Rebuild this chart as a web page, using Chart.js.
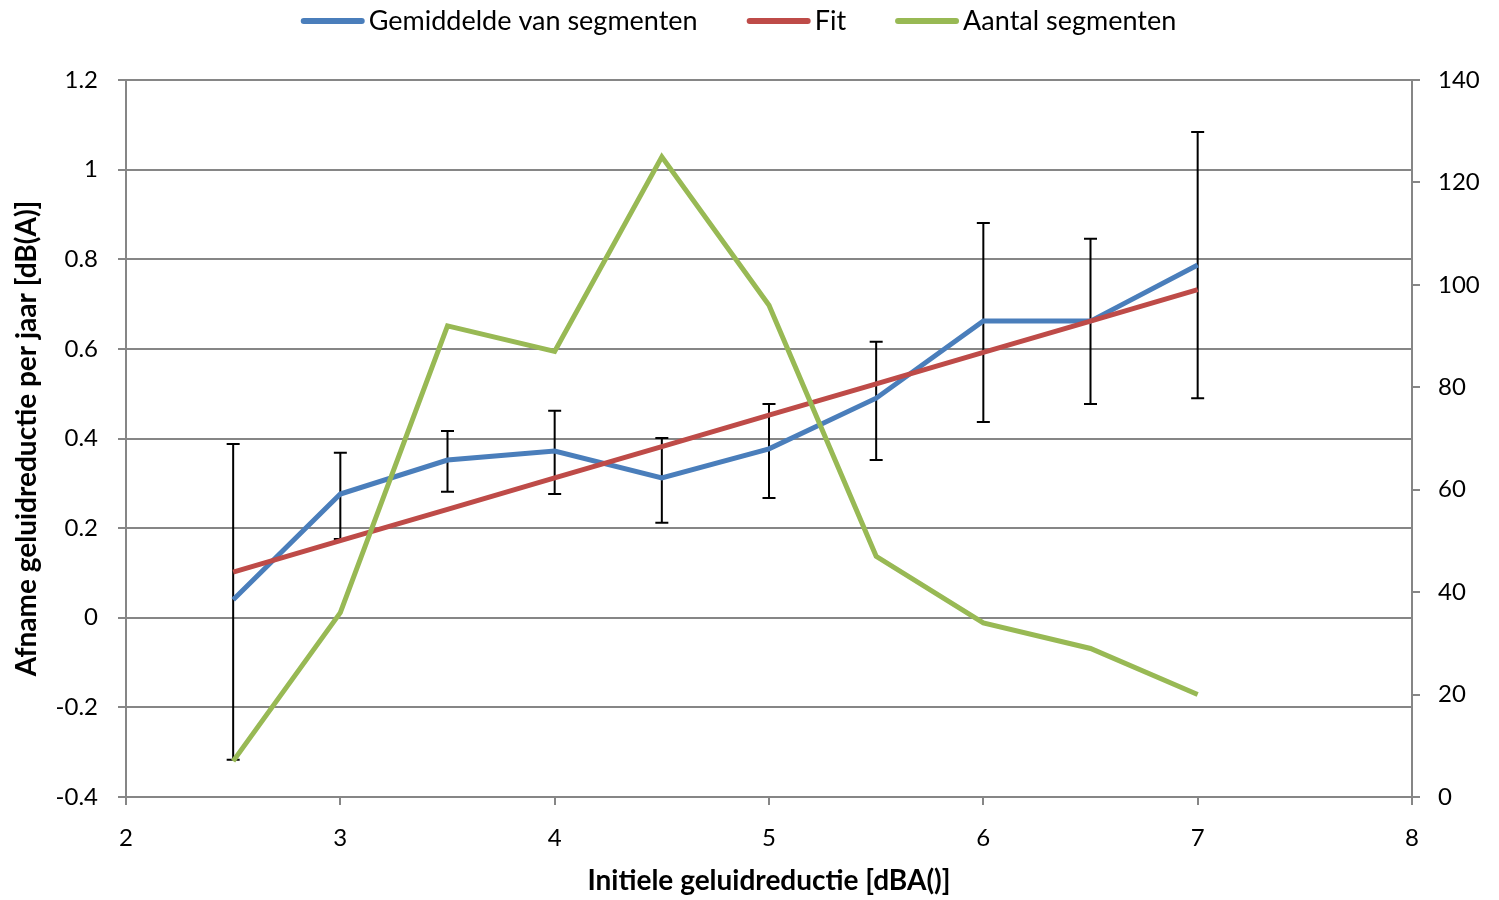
<!DOCTYPE html>
<html>
<head>
<meta charset="utf-8">
<script src="https://cdn.jsdelivr.net/npm/chart.js@4.4.0/dist/chart.umd.min.js"></script>
<style>
    html, body { margin: 0; padding: 0; background: #ffffff; }
    #wrap { width: 1499px; height: 900px; }
</style>
</head>
<body>
<div id="wrap"><canvas id="chart" width="1499" height="900"></canvas></div>
<script>
// x positions (initiele geluidreductie)
const xValues = [2.5, 3, 3.5, 4, 4.5, 5, 5.5, 6, 6.5, 7];
// Gemiddelde van segmenten, with error bar ends
const meanValues = [0.04, 0.276, 0.352, 0.372, 0.312, 0.377, 0.49, 0.662, 0.662, 0.787];
const errUpper   = [0.388, 0.368, 0.417, 0.462, 0.401, 0.477, 0.616, 0.881, 0.846, 1.084];
const errLower   = [-0.317, 0.176, 0.281, 0.276, 0.212, 0.267, 0.352, 0.437, 0.477, 0.49];
// Fit
const fitValues = [0.102, 0.172, 0.242, 0.312, 0.382, 0.452, 0.522, 0.592, 0.662, 0.732];
// Aantal segmenten (right axis)
const countValues = [7, 36, 92, 87, 125, 96, 47, 34, 29, 20];

const BLUE = '#4A7EBB';
const RED = '#BE4B48';
const GREEN = '#98B954';
const AXIS = '#868686';
const FONT = 'Lato, "Open Sans", sans-serif';

function toPoints(ys) {
    return xValues.map((x, i) => ({ x: x, y: ys[i] }));
}

// Draws the black error bars on the mean series
const errorBarPlugin = {
    id: 'errorBars',
    beforeDatasetsDraw(chart) {
        const ctx = chart.ctx;
        const xs = chart.scales.x;
        const ys = chart.scales.y;
        ctx.save();
        ctx.strokeStyle = '#000000';
        ctx.lineWidth = 2;
        xValues.forEach((x, i) => {
            const px = xs.getPixelForValue(x);
            const top = ys.getPixelForValue(errUpper[i]);
            const bot = ys.getPixelForValue(errLower[i]);
            ctx.beginPath();
            ctx.moveTo(px, top);
            ctx.lineTo(px, bot);
            ctx.moveTo(px - 6.5, top);
            ctx.lineTo(px + 6.5, top);
            ctx.moveTo(px - 6.5, bot);
            ctx.lineTo(px + 6.5, bot);
            ctx.stroke();
        });
        ctx.restore();
    }
};

// Simple legend: thick line sample right before the text, centred above the plot
const topLegendPlugin = {
    id: 'topLegend',
    afterDraw(chart) {
        const ctx = chart.ctx;
        const sampleW = 64, gapText = 4, gapItem = 49, y = 21;
        ctx.save();
        ctx.font = '27px ' + FONT;
        ctx.textBaseline = 'middle';
        const items = chart.data.datasets.map(ds => ({
            text: ds.label, color: ds.borderColor, w: ctx.measureText(ds.label).width
        }));
        let total = 0;
        items.forEach((it, i) => { total += sampleW + gapText + it.w + (i ? gapItem : 0); });
        let x = chart.width / 2 - 11 - total / 2;
        items.forEach(it => {
            ctx.strokeStyle = it.color;
            ctx.lineWidth = 6;
            ctx.lineCap = 'round';
            ctx.beginPath();
            ctx.moveTo(x + 3, y);
            ctx.lineTo(x + sampleW - 3, y);
            ctx.stroke();
            ctx.fillStyle = '#000000';
            ctx.fillText(it.text, x + sampleW + gapText, y);
            x += sampleW + gapText + it.w + gapItem;
        });
        ctx.restore();
    }
};

const ctx = document.getElementById('chart').getContext('2d');
new Chart(ctx, {
    type: 'line',
    data: {
        datasets: [{
            label: 'Gemiddelde van segmenten',
            data: toPoints(meanValues),
            borderColor: BLUE,
            backgroundColor: BLUE,
            borderWidth: 5,
            pointRadius: 0,
            yAxisID: 'y',
            order: 3
        }, {
            label: 'Fit',
            data: toPoints(fitValues),
            borderColor: RED,
            backgroundColor: RED,
            borderWidth: 5,
            pointRadius: 0,
            yAxisID: 'y',
            order: 2
        }, {
            label: 'Aantal segmenten',
            data: toPoints(countValues),
            borderColor: GREEN,
            backgroundColor: GREEN,
            borderWidth: 5,
            pointRadius: 0,
            yAxisID: 'y1',
            order: 1
        }]
    },
    options: {
        responsive: false,
        animation: false,
        layout: { padding: { top: 80, left: 0, right: 0, bottom: 0 } },
        plugins: {
            legend: { display: false },
            tooltip: { enabled: false }
        },
        scales: {
            x: {
                type: 'linear',
                min: 2,
                max: 8,
                afterFit(scale) { scale.height = 103; },
                ticks: {
                    stepSize: 1,
                    color: '#000000',
                    font: { family: FONT, size: 24 },
                    padding: 19
                },
                grid: { drawOnChartArea: false, drawTicks: true, tickLength: 8, color: AXIS, lineWidth: 2 },
                border: { color: AXIS, width: 2 },
                title: {
                    display: true,
                    text: 'Initiele geluidreductie [dBA()]',
                    color: '#000000',
                    font: { family: FONT, size: 28, weight: 'bold' },
                    padding: { top: 0, bottom: 2 }
                }
            },
            y: {
                position: 'left',
                min: -0.4,
                max: 1.2,
                afterFit(scale) { scale.width = 126; },
                ticks: {
                    stepSize: 0.2,
                    color: '#000000',
                    font: { family: FONT, size: 24 },
                    padding: 20,
                    callback: v => String(+v.toFixed(1))
                },
                grid: { color: AXIS, lineWidth: 2, drawTicks: true, tickLength: 8 },
                border: { color: AXIS, width: 2 },
                title: {
                    display: true,
                    text: 'Afname geluidreductie per jaar [dB(A)]',
                    color: '#000000',
                    font: { family: FONT, size: 28, weight: 'bold' },
                    padding: { top: 10, bottom: 0 }
                }
            },
            y1: {
                position: 'right',
                min: 0,
                max: 140,
                afterFit(scale) { scale.width = 87; },
                ticks: {
                    stepSize: 20,
                    color: '#000000',
                    font: { family: FONT, size: 24 },
                    padding: 18
                },
                grid: { drawOnChartArea: false, drawTicks: true, tickLength: 8, color: AXIS, lineWidth: 2 },
                border: { color: AXIS, width: 2 }
            }
        }
    },
    plugins: [errorBarPlugin, topLegendPlugin]
});
</script>
</body>
</html>
